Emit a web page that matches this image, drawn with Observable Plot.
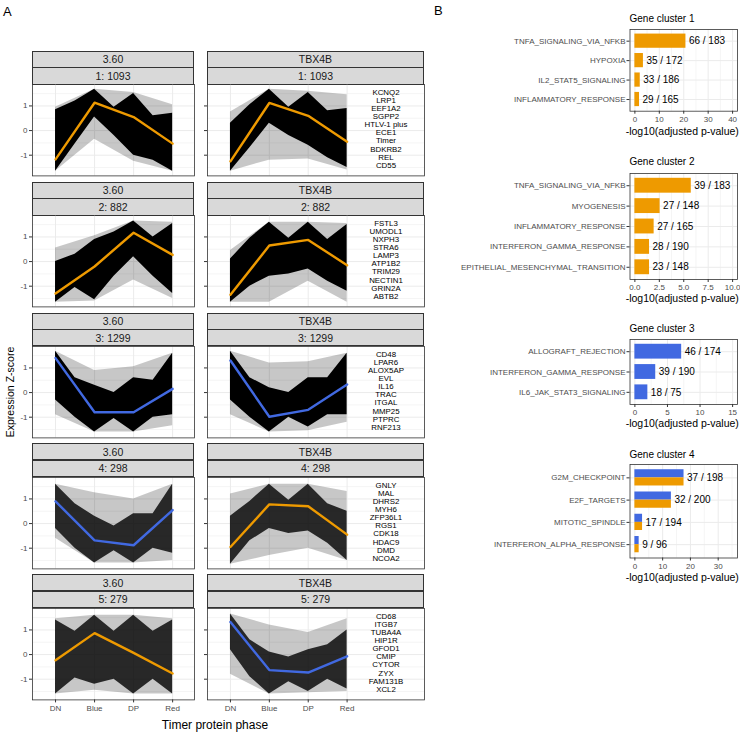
<!DOCTYPE html>
<html><head><meta charset="utf-8">
<script src="https://cdn.jsdelivr.net/npm/d3@7"></script>
<script src="https://cdn.jsdelivr.net/npm/@observablehq/plot@0.6"></script>
<style>
body{margin:0;background:#fff;}
#root{position:relative;width:740px;height:739px;font-family:"Liberation Sans",Arial,sans-serif;overflow:hidden;background:#fff;}
.strip{position:absolute;box-sizing:border-box;background:#D9D9D9;border:0.8px solid #333;color:#1A1A1A;font-size:10.5px;display:flex;align-items:center;justify-content:center;line-height:1;}
.lbl{position:absolute;white-space:nowrap;line-height:1;}
</style></head><body><div id="root"></div>
<script>
// ---------------- DATA ----------------
const phases = ["DN", "Blue", "DP", "Red"];
const corePos = [0, 0.5, 1, 1.5, 2, 2.5, 3]; // phases and the gaps between them
const conditions = ["3.60", "TBX4B"];
const clusterIds = [1, 2, 3, 4, 5];
const clusterSizes = [1093, 882, 1299, 298, 279];

// cluster-average profiles (Expression Z-score)
const summary360 = [[-1.17, 1.13, 0.55, -0.53], [-1.3, -0.2, 1.17, 0.27], [1.4, -0.8, -0.8, 0.15], [0.9, -0.68, -0.88, 0.55], [-0.23, 0.87, 0.07, -0.77]];
const summaryTBX = [[-1.25, 1.12, 0.6, -0.45], [-1.35, 0.65, 0.88, -0.15], [1.3, -0.98, -0.7, 0.33], [-0.95, 0.78, 0.7, -0.45], [1.32, -0.63, -0.73, -0.07]];
const trend360 = ["up", "up", "down", "down", "up"];
const trendTBX = ["up", "up", "down", "up", "down"];

// outer extent of all gene lines at each phase
const outerHi360 = [[0.95, 1.68, 1.55, 1.05], [0.55, 1.05, 1.65, 1.6], [1.68, 0.9, 1.05, 1.6], [1.6, 1.25, 1.0, 1.6], [1.45, 1.6, 1.6, 1.45]];
const outerLo360 = [[-1.65, -0.35, -1.25, -1.65], [-1.65, -1.6, -0.75, -1.5], [-0.9, -1.6, -1.6, -1.35], [-0.6, -1.6, -1.6, -1.5], [-1.6, -1.45, -1.6, -1.6]];
const outerHiTBX = [[0.75, 1.68, 1.6, 1.45], [0.45, 1.6, 1.6, 1.55], [1.68, 1.2, 1.25, 1.6], [1.2, 1.6, 1.6, 1.3], [1.65, 1.2, 0.9, 1.45]];
const outerLoTBX = [[-1.65, -1.2, -1.15, -1.6], [-1.65, -1.65, -0.8, -1.65], [-0.9, -1.6, -1.55, -1.2], [-1.65, -1.3, -1.0, -1.5], [-0.8, -1.6, -1.55, -1.5]];

// dense core of the gene lines (at phases and between them)
const coreHi360 = [[0.85, 1.2, 1.68, 0.95, 1.5, 0.6, 0.7], [0.0, 0.3, 0.9, 1.2, 1.65, 1.0, 1.55], [1.68, 0.6, 0.3, 0.0, 0.6, 0.5, 1.6], [1.6, 0.8, 0.3, -0.1, 0.4, 0.4, 1.6], [1.4, 0.95, 1.6, 0.95, 1.6, 0.95, 1.4]];
const coreLo360 = [[-1.65, -0.55, 0.55, -0.2, -1.0, -1.2, -1.65], [-1.65, -1.05, -1.55, -0.6, 0.2, -0.6, -1.3], [-0.3, -1.0, -1.6, -1.05, -1.6, -1.0, -0.9], [-0.2, -1.0, -1.6, -1.1, -1.6, -1.0, -1.2], [-1.6, -0.95, -1.2, -1.0, -1.6, -1.0, -1.6]];
const coreHiTBX = [[0.3, 1.05, 1.68, 0.95, 1.55, 0.8, 0.9], [0.1, 0.95, 1.6, 0.95, 1.6, 0.9, 1.5], [1.68, 0.6, 0.2, 0.0, 0.6, 0.6, 1.6], [0.3, 0.9, 1.6, 0.95, 1.6, 0.8, 0.5], [1.65, 0.6, 0.1, -0.1, 0.2, 0.4, 1.0]];
const coreLoTBX = [[-1.65, -0.7, 0.3, -0.2, -0.6, -1.1, -1.5], [-1.65, -1.0, -0.6, -0.5, -0.3, -0.8, -1.2], [-0.3, -1.0, -1.6, -1.0, -1.4, -0.9, -0.9], [-1.65, -0.7, -0.2, -0.4, -0.3, -0.8, -1.5], [0.2, -0.9, -1.6, -1.1, -1.5, -1.0, -1.4]];

const topGenes = [
  ["KCNQ2", "LRP1", "EEF1A2", "SGPP2", "HTLV-1 plus", "ECE1", "Timer", "BDKRB2", "REL", "CD55"],
  ["FSTL3", "UMODL1", "NXPH3", "STRA6", "LAMP3", "ATP1B2", "TRIM29", "NECTIN1", "GRIN2A", "ABTB2"],
  ["CD48", "LPAR6", "ALOX5AP", "EVL", "IL16", "TRAC", "ITGAL", "MMP25", "PTPRC", "RNF213"],
  ["GNLY", "MAL", "DHRS2", "MYH6", "ZFP36L1", "RGS1", "CDK18", "HDAC9", "DMD", "NCOA2"],
  ["CD68", "ITGB7", "TUBA4A", "HIP1R", "GFOD1", "CMIP", "CYTOR", "ZYX", "FAM131B", "XCL2"]
];
const yMajor = [-1, 0, 1];
const yMinor = [-1.5, -0.5, 0.5, 1.5];

// Panel B: hallmark enrichment
const c1Terms = ["TNFA_SIGNALING_VIA_NFKB", "HYPOXIA", "IL2_STAT5_SIGNALING", "INFLAMMATORY_RESPONSE"];
const c1Values = [20.9, 3.5, 2.2, 1.9];
const c1Counts = ["66 / 183", "35 / 172", "33 / 186", "29 / 165"];
const c2Terms = ["TNFA_SIGNALING_VIA_NFKB", "MYOGENESIS", "INFLAMMATORY_RESPONSE", "INTERFERON_GAMMA_RESPONSE", "EPITHELIAL_MESENCHYMAL_TRANSITION"];
const c2Values = [5.77, 2.58, 1.97, 1.5, 1.5];
const c2Counts = ["39 / 183", "27 / 148", "27 / 165", "28 / 190", "23 / 148"];
const c3Terms = ["ALLOGRAFT_REJECTION", "INTERFERON_GAMMA_RESPONSE", "IL6_JAK_STAT3_SIGNALING"];
const c3Values = [7.18, 3.2, 1.99];
const c3Counts = ["46 / 174", "39 / 190", "18 / 75"];
const c4Terms = ["G2M_CHECKPOINT", "E2F_TARGETS", "MITOTIC_SPINDLE", "INTERFERON_ALPHA_RESPONSE"];
const c4ValuesDown = [17.7, 13.15, 2.76, 1.54];
const c4ValuesUp = [17.7, 13.15, 2.76, 1.54];
const c4Counts = ["37 / 198", "32 / 200", "17 / 194", "9 / 96"];
const clusterTrends = [["up"], ["up"], ["down"], ["down", "up"]];
const xLimits = [40, 10, 15, 35.2];
const xTicks = [[0, 10, 20, 30, 40], [0, 2.5, 5, 7.5, 10], [0, 5, 10, 15], [0, 10, 20, 30]];
const xMinorTicks = [[5, 15, 25, 35], [1.25, 3.75, 6.25, 8.75], [2.5, 7.5, 12.5], [5, 15, 25, 35]];

// ---------------- DRAWING ----------------
const trendColor = {up: "#EE9A00", down: "#4169E1"};
const FONT = "Liberation Sans, Arial, sans-serif";
const root = document.getElementById("root");
function place(el, left, top) { el.style.position = "absolute"; el.style.left = left + "px"; el.style.top = top + "px"; root.appendChild(el); }
function label(txt, x, y, o = {}) {
  const d = document.createElement("div"); d.className = "lbl"; d.textContent = txt;
  d.style.fontSize = (o.size || 10) + "px"; d.style.color = o.color || "#000";
  d.style.left = x + "px"; d.style.top = y + "px";
  const tx = o.anchor === "start" ? "0" : o.anchor === "end" ? "-100%" : "-50%";
  d.style.transform = `translate(${tx},-50%)`;
  if (o.rotate) d.style.transform = `translate(-50%,-50%) rotate(${o.rotate}deg)`;
  root.appendChild(d);
}
function strip(x, y, w, h, txt) {
  const d = document.createElement("div"); d.className = "strip"; d.textContent = txt;
  d.style.left = x + "px"; d.style.top = y + "px"; d.style.width = w + "px"; d.style.height = h + "px";
  root.appendChild(d);
}

label("A", 3, 11, {anchor: "start", size: 13});
label("B", 434, 10, {anchor: "start", size: 13});

const ROW0 = 50.7, STEP = 130.9;
const colLeft = [32, 207], colWidth = [162, 217], colXMax = [3.56, 4.99];
const PH = 91.4;
for (let r = 0; r < 5; r++) {
  for (let c = 0; c < 2; c++) {
    const stripTop = ROW0 + r * STEP;
    strip(colLeft[c], stripTop, colWidth[c], 17, conditions[c]);
    strip(colLeft[c], stripTop + 16.6, colWidth[c], 17.4, `${clusterIds[r]}: ${clusterSizes[r]}`);
    const panelTop = stripTop + 33.6;
    const sum = c === 0 ? summary360[r] : summaryTBX[r];
    const trend = c === 0 ? trend360[r] : trendTBX[r];
    const oHi = c === 0 ? outerHi360[r] : outerHiTBX[r];
    const oLo = c === 0 ? outerLo360[r] : outerLoTBX[r];
    const cHi = c === 0 ? coreHi360[r] : coreHiTBX[r];
    const cLo = c === 0 ? coreLo360[r] : coreLoTBX[r];
    const outer = phases.map((p, i) => ({x: i, lo: oLo[i], hi: oHi[i]}));
    const core = corePos.map((x, i) => ({x, lo: cLo[i], hi: cHi[i]}));
    const prof = phases.map((p, i) => ({x: i, y: sum[i]}));
    const coreOp = clusterSizes[r] > 500 ? 1 : 0.8;
    const ml = 32, mr = 4, mt = 2, mb = r === 4 ? 22 : 2;
    const marks = [
      Plot.gridY(yMinor, {stroke: "#EBEBEB", strokeOpacity: 1, strokeWidth: 0.5}),
      Plot.gridY(yMajor, {stroke: "#EBEBEB", strokeOpacity: 1, strokeWidth: 1}),
      Plot.gridX([0, 1, 2, 3], {stroke: "#EBEBEB", strokeOpacity: 1, strokeWidth: 1}),
      Plot.areaY(outer, {x: "x", y1: "lo", y2: "hi", fill: "#000", fillOpacity: 0.22}),
      Plot.areaY(core, {x: "x", y1: "lo", y2: "hi", fill: "#000", fillOpacity: coreOp}),
      Plot.line(prof, {x: "x", y: "y", stroke: trendColor[trend], strokeWidth: 2.4}),
      Plot.frame({stroke: "#333", strokeWidth: 0.8}),
      Plot.axisY(yMajor, {tickSize: 3, tickPadding: 2, fontSize: 8, fill: "#4D4D4D", stroke: "#333", label: null,
        tickFormat: c === 0 ? (d => String(d)) : (() => "")})
    ];
    if (c === 1) {
      marks.push(Plot.text(topGenes[r], {x: () => 4, y: (d, i) => 1.54 - i * 0.327, text: d => d, fontSize: 7.9, fill: "#000", textAnchor: "middle"}));
    }
    if (r === 4) {
      marks.push(Plot.axisX([0, 1, 2, 3], {tickSize: 3, tickPadding: 2, fontSize: 8, fill: "#4D4D4D", stroke: "#333", label: null, tickFormat: i => phases[i]}));
    }
    const svg = Plot.plot({
      width: ml + colWidth[c] + mr, height: PH + mt + mb,
      marginLeft: ml, marginRight: mr, marginTop: mt, marginBottom: mb,
      x: {domain: [-0.59, colXMax[c]], axis: null},
      y: {domain: [-1.84, 1.87], axis: null},
      style: {background: "transparent", fontFamily: FONT, overflow: "visible"},
      marks
    });
    place(svg, colLeft[c] - ml, panelTop - mt);
  }
}
label("Expression Z-score", 10, 392, {size: 10.5, rotate: -90});
label("Timer protein phase", 215, 725, {size: 12});

// Panel B
const bData = [
  {terms: c1Terms, series: [c1Values], counts: c1Counts},
  {terms: c2Terms, series: [c2Values], counts: c2Counts},
  {terms: c3Terms, series: [c3Values], counts: c3Counts},
  {terms: c4Terms, series: [c4ValuesDown, c4ValuesUp], counts: c4Counts}
];
const bGeom = [
  {title: 19.3, top: 29.3, bottom: 111, axisTitle: 130.7},
  {title: 162, top: 172.5, bottom: 278.5, axisTitle: 298.3},
  {title: 328.5, top: 339, bottom: 404, axisTitle: 422.7},
  {title: 455, top: 463.5, bottom: 557, axisTitle: 576.7}
];
const BL = 629.5, BR = 737;
bData.forEach((b, k) => {
  const g = bGeom[k];
  const n = b.terms.length;
  const idx = d3.range(n);
  const D = xLimits[k];
  const fmt = k === 1 ? d3.format(".1f") : (d => String(d));
  const half = 0.365;
  const marks = [
    Plot.gridX(xMinorTicks[k], {stroke: "#EBEBEB", strokeOpacity: 1, strokeWidth: 0.5}),
    Plot.gridX(xTicks[k], {stroke: "#EBEBEB", strokeOpacity: 1, strokeWidth: 1}),
    Plot.gridY(idx, {stroke: "#EBEBEB", strokeOpacity: 1, strokeWidth: 1})
  ];
  const ns = b.series.length;
  b.series.forEach((vals, s) => {
    const data = idx.map(i => ({i, v: vals[i]}));
    const y1 = ns === 1 ? (d => d.i - half) : (d => d.i - half + s * half);
    const y2 = ns === 1 ? (d => d.i + half) : (d => d.i + s * half);
    marks.push(Plot.rect(data, {x1: 0, x2: "v", y1, y2, fill: trendColor[clusterTrends[k][s]]}));
  });
  const lab = idx.map(i => ({i, v: d3.max(b.series, s => s[i]), t: b.counts[i]}));
  marks.push(
    Plot.text(lab, {x: "v", y: "i", text: "t", dx: 3, textAnchor: "start", fontSize: 10, fill: "#000"}),
    Plot.frame({stroke: "#333", strokeWidth: 0.8}),
    Plot.axisX(xTicks[k], {tickSize: 3, tickPadding: 2, fontSize: 8, fill: "#4D4D4D", stroke: "#333", label: null, tickFormat: fmt}),
    Plot.axisY(idx, {tickSize: 3, tickPadding: 1.5, fontSize: 8, fill: "#4D4D4D", stroke: "#333", label: null, tickFormat: i => b.terms[i]})
  );
  const mt = 5, mb = 18;
  const svg = Plot.plot({
    width: 370, height: (g.bottom - g.top) + mt + mb,
    marginLeft: BL - 370, marginRight: 740 - BR, marginTop: mt, marginBottom: mb,
    x: {domain: [-0.05 * D, 1.05 * D], axis: null},
    y: {domain: [n - 1 + 0.6, -0.6], axis: null},
    style: {background: "transparent", fontFamily: FONT, overflow: "visible"},
    marks
  });
  place(svg, 370, g.top - mt);
  label(`Gene cluster ${k + 1}`, BL, g.title, {anchor: "start", size: 10});
  label("-log10(adjusted p-value)", (BL + BR) / 2 - 1, g.axisTitle, {size: 10.5});
});
</script></body></html>
